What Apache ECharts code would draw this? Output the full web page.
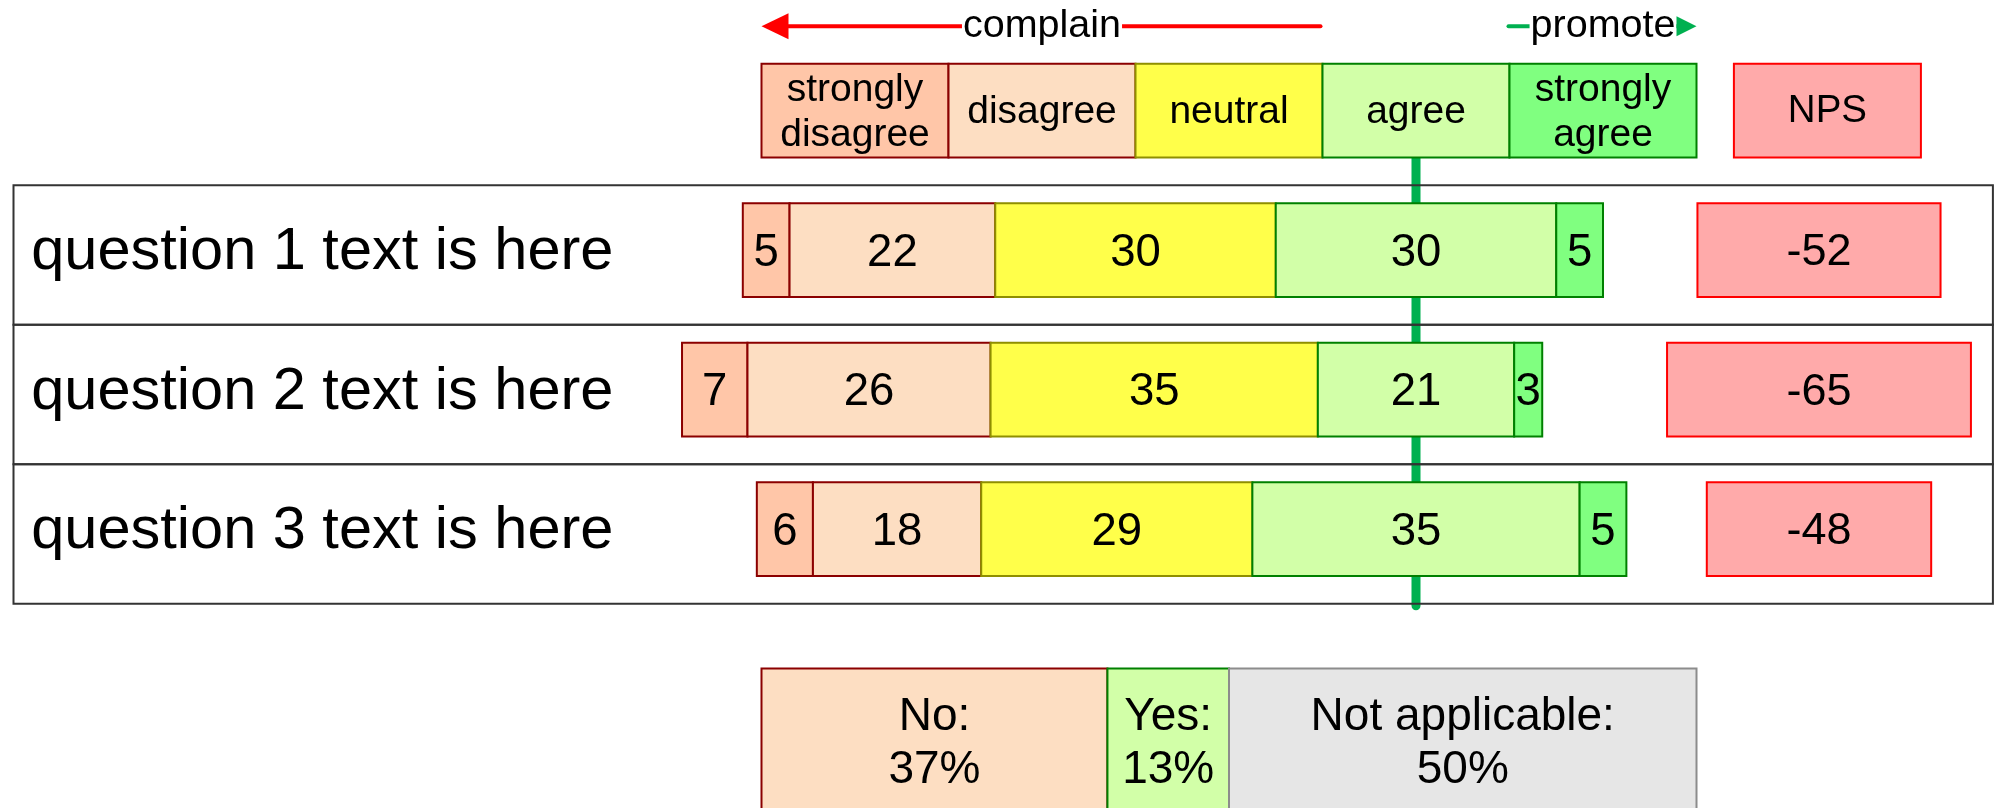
<!DOCTYPE html>
<html>
<head>
<meta charset="utf-8">
<title>Likert / NPS</title>
<script src="https://cdn.jsdelivr.net/npm/echarts@6.0.0/dist/echarts.min.js"></script>
<style>
    html, body { margin: 0; padding: 0; background: #fff; }
    #main { width: 1995px; height: 808px; }
</style>
</head>
<body>
<div id="main"></div>
<script>
// data
var questions = ['question 1 text is here', 'question 2 text is here', 'question 3 text is here'];
var levelNames = ['strongly\ndisagree', 'disagree', 'neutral', 'agree', 'strongly\nagree'];
var stronglyDisagree = [5, 7, 6];
var disagree = [22, 26, 18];
var neutral = [30, 35, 29];
var agree = [30, 21, 35];
var stronglyAgree = [5, 3, 5];
var npsScores = [-52, -65, -48];
var npsTitle = 'NPS';
var arrowLabels = ['complain', 'promote'];
var summaryNames = ['No:', 'Yes:', 'Not applicable:'];
var summaryValues = [37, 13, 50];

// styles
var FONT = '"Liberation Sans", Arial, Helvetica, sans-serif';
var levelFill = ['#ffc6a8', '#fddec2', '#ffff4a', '#d2ffa8', '#80ff80'];
var levelStroke = ['#8b0000', '#8b0000', '#8f8f00', '#008000', '#008000'];
var summaryFill = ['#fddec2', '#d2ffa8', '#e6e6e6'];
var summaryStroke = ['#8b0000', '#008000', '#8c8c8c'];

// layout (axis units: x = percent, y = row index)
var BAR_H = 0.672;
var HEAD_START = -70, HEAD_W = 20;
var NPS_CENTER = 43.1, NPS_HEAD_CENTER = 44;
var TEXT_X = -148.1;
var ARROW_Y = -0.604;

var levelValues = [stronglyDisagree, disagree, neutral, agree, stronglyAgree];

function box(api, x0, x1, y0, y1) {
    var a = api.coord([x0, y0]);
    var b = api.coord([x1, y1]);
    return { x: a[0], y: a[1], width: b[0] - a[0], height: b[1] - a[1] };
}

function label(x, y, text, size, lh) {
    return {
        type: 'text', x: x, y: y,
        style: {
            text: text, fill: '#000', font: size + 'px ' + FONT,
            fontSize: size, fontFamily: FONT, lineHeight: lh || size,
            align: 'center', verticalAlign: 'middle'
        }
    };
}

// bars centred on the middle of "agree"
var likertData = [];
questions.forEach(function (q, i) {
    var v = levelValues.map(function (arr) { return arr[i]; });
    var start = -(v[0] + v[1] + v[2] + v[3] / 2);
    v.forEach(function (val, k) {
        likertData.push([start, start + val, i + 1, val, k]);
        start += val;
    });
});

var headerData = levelNames.map(function (n, k) {
    return [HEAD_START + k * HEAD_W, HEAD_START + (k + 1) * HEAD_W, 0, k];
});

var summaryData = [];
var acc = HEAD_START;
summaryValues.forEach(function (v, k) {
    summaryData.push([acc, acc + v, k]);
    acc += v;
});

var chart = echarts.init(document.getElementById('main'), null, { renderer: 'canvas' });

var option = {
    animation: false,
    backgroundColor: '#fff',
    grid: { left: 13.5, top: 6, width: 1979.4, height: 805 },
    xAxis: { type: 'value', min: -150, max: 61.7, show: false },
    yAxis: { type: 'value', min: -0.75, max: 5, inverse: true, show: false },
    series: [
        {
            // green centre line
            type: 'custom', z: 1,
            data: [[0, 0.336, 3.55]],
            encode: { x: 0, y: 1 },
            renderItem: function (params, api) {
                var a = api.coord([api.value(0), api.value(1)]);
                var b = api.coord([api.value(0), api.value(2)]);
                return {
                    type: 'line',
                    shape: { x1: a[0], y1: a[1], x2: b[0], y2: b[1] },
                    style: { stroke: '#00b050', lineWidth: 9, lineCap: 'round' }
                };
            }
        },
        {
            // question rows
            type: 'custom', z: 2,
            data: questions.map(function (q, i) { return [i + 1]; }),
            encode: { y: 0 },
            renderItem: function (params, api) {
                var r = api.value(0);
                var cs = params.coordSys;
                var t = api.coord([0, r - 0.464])[1];
                var b = api.coord([0, r + 0.536])[1];
                var p = api.coord([TEXT_X, r]);
                var txt = label(p[0], p[1] + 3, questions[params.dataIndex], 59.5);
                txt.style.align = 'left';
                return {
                    type: 'group',
                    children: [
                        {
                            type: 'rect',
                            shape: { x: cs.x, y: t, width: cs.width, height: b - t },
                            style: { fill: 'none', stroke: '#333', lineWidth: 2 }
                        },
                        txt
                    ]
                };
            }
        },
        {
            // likert segments
            type: 'custom', z: 3,
            data: likertData,
            encode: { x: [0, 1], y: 2 },
            renderItem: function (params, api) {
                var r = api.value(2), k = api.value(4);
                var s = box(api, api.value(0), api.value(1), r - BAR_H / 2, r + BAR_H / 2);
                return {
                    type: 'group',
                    children: [
                        { type: 'rect', shape: s, style: { fill: levelFill[k], stroke: levelStroke[k], lineWidth: 2 } },
                        label(s.x + s.width / 2, s.y + s.height / 2 + 3, String(api.value(3)), 45.5)
                    ]
                };
            }
        },
        {
            // header legend boxes
            type: 'custom', z: 3,
            data: headerData,
            encode: { x: [0, 1], y: 2 },
            renderItem: function (params, api) {
                var k = api.value(3);
                var s = box(api, api.value(0), api.value(1), -BAR_H / 2, BAR_H / 2);
                return {
                    type: 'group',
                    children: [
                        { type: 'rect', shape: s, style: { fill: levelFill[k], stroke: levelStroke[k], lineWidth: 2 } },
                        label(s.x + s.width / 2, s.y + s.height / 2 + 2, levelNames[k], 39, 45)
                    ]
                };
            }
        },
        {
            // NPS header
            type: 'custom', z: 3,
            data: [[NPS_HEAD_CENTER - HEAD_W / 2, NPS_HEAD_CENTER + HEAD_W / 2, 0]],
            encode: { x: [0, 1], y: 2 },
            renderItem: function (params, api) {
                var s = box(api, api.value(0), api.value(1), -BAR_H / 2, BAR_H / 2);
                return {
                    type: 'group',
                    children: [
                        { type: 'rect', shape: s, style: { fill: '#ffaaaa', stroke: '#ff0000', lineWidth: 2 } },
                        label(s.x + s.width / 2, s.y + s.height / 2 + 1, npsTitle, 38.5)
                    ]
                };
            }
        },
        {
            // NPS bars, width ~ |score|, centred
            type: 'custom', z: 3,
            data: npsScores.map(function (v, i) { return [v, i + 1]; }),
            encode: { x: 0, y: 1 },
            renderItem: function (params, api) {
                var v = api.value(0), r = api.value(1);
                var half = Math.abs(v) / 4;
                var s = box(api, NPS_CENTER - half, NPS_CENTER + half, r - BAR_H / 2, r + BAR_H / 2);
                return {
                    type: 'group',
                    children: [
                        { type: 'rect', shape: s, style: { fill: '#ffaaaa', stroke: '#ff0000', lineWidth: 2 } },
                        label(s.x + s.width / 2, s.y + s.height / 2 + 3, String(v), 45)
                    ]
                };
            }
        },
        {
            // yes / no / n.a. summary
            type: 'custom', z: 3,
            data: summaryData,
            encode: { x: [0, 1], y: 2 },
            renderItem: function (params, api) {
                var k = api.value(2);
                var s = box(api, api.value(0), api.value(1), 4.0, 5.1);
                var c = api.coord([0, 4.54]);
                return {
                    type: 'group',
                    children: [
                        { type: 'rect', shape: s, style: { fill: summaryFill[k], stroke: summaryStroke[k], lineWidth: 2 } },
                        label(s.x + s.width / 2, c[1], summaryNames[k] + '\n' + summaryValues[k] + '%', 46, 53)
                    ]
                };
            }
        },
        {
            // complain / promote arrows
            type: 'custom', z: 4,
            data: [[HEAD_START, HEAD_START + 3 * HEAD_W, 0], [HEAD_START + 4 * HEAD_W, HEAD_START + 5 * HEAD_W, 1]],
            encode: { x: [0, 1] },
            renderItem: function (params, api) {
                var k = api.value(2);
                var a = api.coord([api.value(0), ARROW_Y]);
                var b = api.coord([api.value(1), ARROW_Y]);
                var y = a[1];
                var color = k === 0 ? '#ff0000' : '#00b050';
                var len = k === 0 ? 27 : 20, hh = k === 0 ? 13 : 10;
                var line, head;
                if (k === 0) {
                    line = { x1: a[0] + len - 2, y1: y, x2: b[0] - 2, y2: y };
                    head = [[a[0], y], [a[0] + len, y - hh], [a[0] + len, y + hh]];
                } else {
                    line = { x1: a[0] - 1, y1: y, x2: b[0] - len + 2, y2: y };
                    head = [[b[0], y], [b[0] - len, y - hh], [b[0] - len, y + hh]];
                }
                var txt = label((a[0] + b[0]) / 2, y, arrowLabels[k], 39.5);
                txt.style.backgroundColor = '#fff';
                txt.style.padding = [0, 1];
                return {
                    type: 'group',
                    children: [
                        { type: 'line', shape: line, style: { stroke: color, lineWidth: 4, lineCap: 'round' } },
                        txt,
                        { type: 'polygon', shape: { points: head }, style: { fill: color } }
                    ]
                };
            }
        }
    ]
};

chart.setOption(option);
</script>
</body>
</html>
